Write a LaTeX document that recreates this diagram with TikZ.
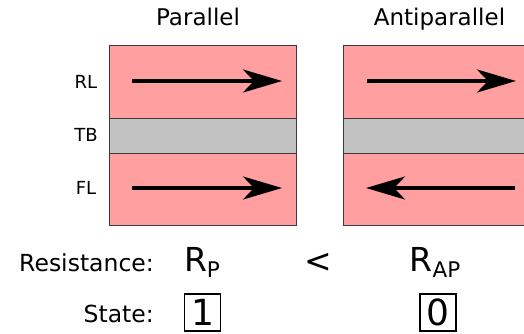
\documentclass[tikz,border=0pt]{standalone}
\usepackage{fontspec}
\setmainfont{DejaVu Sans}
\usetikzlibrary{arrows.meta}
\definecolor{layerpink}{HTML}{FF9F9F}
\definecolor{layergray}{HTML}{C2C2C2}
\definecolor{edgegray}{HTML}{3A3A3A}
\tikzset{
  layer/.style={draw=edgegray, line width=1pt, minimum width=187pt, inner sep=0pt, outer sep=0pt},
  magnet/.style={layer, fill=layerpink, minimum height=72pt},
  barrier/.style={layer, fill=layergray, minimum height=35pt},
  spin/.style={line width=4pt, -{Stealth[length=39pt, width=23pt, inset=11pt]}},
  title/.style={font=\fontsize{23}{27}\selectfont, inner sep=0pt},
  lbl/.style={font=\fontsize{18}{21}\selectfont, inner sep=0pt},
  rowlbl/.style={font=\fontsize{23.5}{27}\selectfont, inner sep=0pt, anchor=base east},
  statebox/.style={draw=black, line width=1.3pt, minimum width=36pt, minimum height=37pt, inner sep=0pt, font=\fontsize{36}{36}\selectfont},
  resist/.style={inner sep=0pt, anchor=base}
}
\newcommand{\bigR}[1]{{\fontsize{33}{33}\selectfont R}\raisebox{-6pt}{\fontsize{21.5}{21.5}\selectfont #1}}
\begin{document}
\begin{tikzpicture}[x=1pt, y=-1pt]
\useasboundingbox (0,0) rectangle (524,334);
\clip (0,0) rectangle (524,334);
% left stack
\node[magnet]  (pRL) at (202.5, 82) {};
\node[barrier] (pTB) at (202.5, 135.5) {};
\node[magnet]  (pFL) at (202.5, 189) {};
% right stack
\node[magnet]  (aRL) at (436.5, 82) {};
\node[barrier] (aTB) at (436.5, 135.5) {};
\node[magnet]  (aFL) at (436.5, 189) {};
% arrows
\coordinate (p1s) at (132, 81);  \coordinate (p1e) at (282, 81);
\coordinate (p2s) at (132, 188); \coordinate (p2e) at (282, 188);
\coordinate (a1s) at (367, 81);  \coordinate (a1e) at (516, 81);
\coordinate (a2s) at (515, 188); \coordinate (a2e) at (366, 188);
\draw[spin] (p1s) -- (p1e);
\draw[spin] (p2s) -- (p2e);
\draw[spin] (a1s) -- (a1e);
\draw[spin] (a2s) -- (a2e);
% titles
\node[title, anchor=base] (tP) at (198, 26) {Parallel};
\node[title, anchor=base] (tA) at (439.5, 26) {Antiparallel};
% layer labels
\node[lbl] (lRL) at (86, 82) {RL};
\node[lbl] (lTB) at (86, 135) {TB};
\node[lbl] (lFL) at (86, 188) {FL};
% resistance row
\node[rowlbl] (res) at (154, 271) {Resistance:};
\node[resist] (rp) at (202, 271) {\bigR{P}};
\node[inner sep=0pt, font=\fontsize{33}{33}\selectfont, anchor=base] (lt) at (318.5, 272) {<};
\node[resist] (rap) at (435, 271) {\bigR{AP}};
% state row
\node[rowlbl] (st) at (154, 322) {State:};
\node[statebox] (s1) at (202.5, 312.5) {1};
\node[statebox] (s0) at (438, 312.5) {0};
\end{tikzpicture}
\end{document}
